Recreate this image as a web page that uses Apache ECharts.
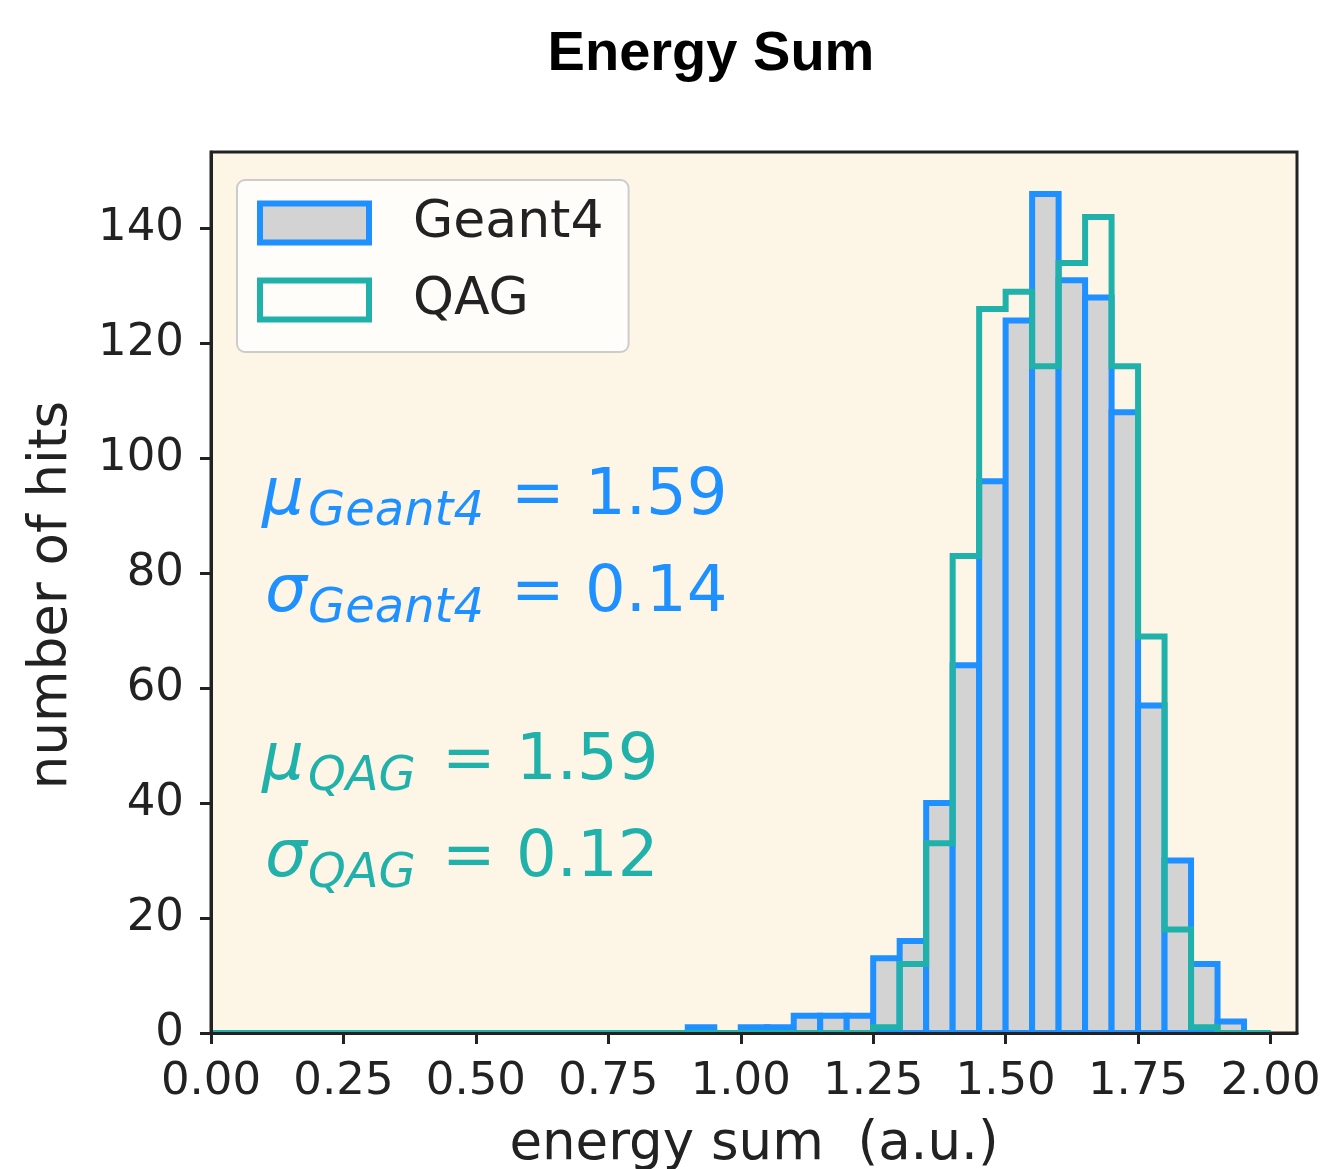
<!DOCTYPE html>
<html><head><meta charset="utf-8">
<script src="https://cdn.jsdelivr.net/npm/echarts@6/dist/echarts.min.js"></script>
<style>html,body{margin:0;padding:0;background:#fff}#c{width:1327px;height:1169px}</style>
</head><body><div id="c"></div>
<script>
// ---- data ----
const binEdges = [0.00,0.05,0.10,0.15,0.20,0.25,0.30,0.35,0.40,0.45,0.50,0.55,0.60,0.65,0.70,0.75,0.80,0.85,0.90,0.95,
                  1.00,1.05,1.10,1.15,1.20,1.25,1.30,1.35,1.40,1.45,1.50,1.55,1.60,1.65,1.70,1.75,1.80,1.85,1.90,1.95,2.00];
const geant4Counts = [0,0,0,0,0,0,0,0,0,0,0,0,0,0,0,0,0,0,
                      1,0,1,1,3,3,3,13,16,40,64,96,124,146,131,128,108,57,30,12,2,0];
const qagCounts = [0,0,0,0,0,0,0,0,0,0,0,0,0,0,0,0,0,0,0,0,0,0,0,0,0,
                   1,12,33,83,126,129,116,134,142,116,69,18,1,0,0];
const xTicks = [0.00,0.25,0.50,0.75,1.00,1.25,1.50,1.75,2.00];
const yTicks = [0,20,40,60,80,100,120,140];
const seriesNames = ['Geant4','QAG'];
const statsGeant4 = {mu:'1.59', sigma:'0.14'};
const statsQAG = {mu:'1.59', sigma:'0.12'};

// ---- style ----
const BLUE = '#1e90ff', TEAL = '#20b2aa', GRAY = '#d3d3d3', INK = '#222222';
const FONT = 'DejaVu Sans';
const K = 0.28;

const chart = echarts.init(document.getElementById('c'), null, {renderer:'canvas'});

function txt(str, x, baseline, size, italic, color) {
  return {
    type:'text', x:x, y: baseline - K*size, z: 50,
    style:{text:str, fontFamily: FONT, fontSize:size, fontStyle: italic?'italic':'normal',
           fill:color, align:'left', verticalAlign:'middle'}
  };
}

const graphics = [
  // title
  {type:'text', x:711, y:70-K*56, z:50,
   style:{text:'Energy Sum', fontFamily:'Liberation Sans', fontWeight:'bold', fontSize:56, fill:'#000',
          align:'center', verticalAlign:'middle'}},
  // x axis name
  {type:'text', x:754, y:1160-K*53, z:50,
   style:{text:'energy sum  (a.u.)', fontFamily:FONT, fontSize:53, fill:INK, align:'center', verticalAlign:'middle'}},
  // y axis name
  {type:'text', x:52, y:595, rotation:Math.PI/2, z:50,
   style:{text:'number of hits', fontFamily:FONT, fontSize:53, fill:INK, align:'center', verticalAlign:'middle'}},
  // annotations Geant4
  txt('μ', 262, 515, 66, true, BLUE),
  txt('Geant4', 308, 526, 48, true, BLUE),
  txt('= ' + statsGeant4.mu, 511, 515, 64, false, BLUE),
  txt('σ', 265, 612, 66, true, BLUE),
  txt('Geant4', 308, 623, 48, true, BLUE),
  txt('= ' + statsGeant4.sigma, 511, 612, 64, false, BLUE),
  // annotations QAG
  txt('μ', 262, 780, 66, true, TEAL),
  txt('QAG', 308, 791, 48, true, TEAL),
  txt('= ' + statsQAG.mu, 442, 780, 64, false, TEAL),
  txt('σ', 265, 877, 66, true, TEAL),
  txt('QAG', 308, 888, 48, true, TEAL),
  txt('= ' + statsQAG.sigma, 442, 877, 64, false, TEAL)
];

const geantData = geant4Counts.map((c,i) => [binEdges[i], binEdges[i+1], c]);

const option = {
  animation:false,
  backgroundColor:'#ffffff',
  grid:{left:211, right:30, top:152, bottom:136, show:true, backgroundColor:'#fdf5e6',
        borderColor:INK, borderWidth:3, containLabel:false},
  xAxis:{
    type:'value', min:0, max:2.05, interval:0.25, z:10,
    axisLine:{show:true, onZero:false, lineStyle:{color:INK, width:3}},
    axisTick:{show:true, inside:false, length:11, lineStyle:{color:INK, width:3}, customValues:xTicks},
    axisLabel:{show:true, customValues:xTicks, margin:27, color:INK, fontFamily:FONT, fontSize:45,
               formatter:v => Number(v).toFixed(2)},
    splitLine:{show:false}
  },
  yAxis:{
    type:'value', min:0, max:153.3, interval:20, z:10,
    axisLine:{show:true, onZero:false, lineStyle:{color:INK, width:3}},
    axisTick:{show:true, inside:false, length:11, lineStyle:{color:INK, width:3}, customValues:yTicks},
    axisLabel:{show:true, customValues:yTicks, margin:27, color:INK, fontFamily:FONT, fontSize:45,
               padding:[5,0,0,0]},
    splitLine:{show:false}
  },
  legend:{
    show:true, orient:'vertical', left:237, top:180, selectedMode:false,
    padding:[10,25,19,20], itemGap:11, itemWidth:109, itemHeight:39,
    backgroundColor:'rgba(255,255,255,0.8)', borderColor:'#cccccc', borderWidth:2, borderRadius:8,
    textStyle:{fontFamily:FONT, fontSize:52, color:INK, lineHeight:60, padding:[6,0,0,39]},
    data:[
      {name:seriesNames[0], icon:'rect', itemStyle:{color:GRAY, borderColor:BLUE, borderWidth:6}},
      {name:seriesNames[1], icon:'rect', itemStyle:{color:'rgba(255,255,255,0)', borderColor:TEAL, borderWidth:6}}
    ]
  },
  graphic:graphics,
  series:[
    {
      name:seriesNames[0], type:'custom', clip:true, z:2,
      itemStyle:{color:GRAY, borderColor:BLUE, borderWidth:6},
      encode:{x:[0,1], y:2},
      data:geantData,
      renderItem:function(params, api){
        const p0 = api.coord([api.value(0), api.value(2)]);
        const p1 = api.coord([api.value(1), 0]);
        return {type:'rect', shape:{x:p0[0], y:p0[1], width:p1[0]-p0[0], height:p1[1]-p0[1]},
                style:{fill:GRAY, stroke:BLUE, lineWidth:6}};
      }
    },
    {
      name:seriesNames[1], type:'custom', clip:true, z:3,
      itemStyle:{color:'rgba(0,0,0,0)', borderColor:TEAL, borderWidth:6},
      encode:{x:0, y:1},
      data:[[binEdges[0], 0]],
      renderItem:function(params, api){
        const pts = [api.coord([binEdges[0], 0])];
        for (let i = 0; i < qagCounts.length; i++) {
          pts.push(api.coord([binEdges[i], qagCounts[i]]));
          pts.push(api.coord([binEdges[i+1], qagCounts[i]]));
        }
        pts.push(api.coord([binEdges[binEdges.length-1], 0]));
        return {type:'polyline', shape:{points:pts},
                style:{fill:null, stroke:TEAL, lineWidth:6, lineJoin:'miter'}};
      }
    }
  ]
};
chart.setOption(option);
</script>
</body></html>
